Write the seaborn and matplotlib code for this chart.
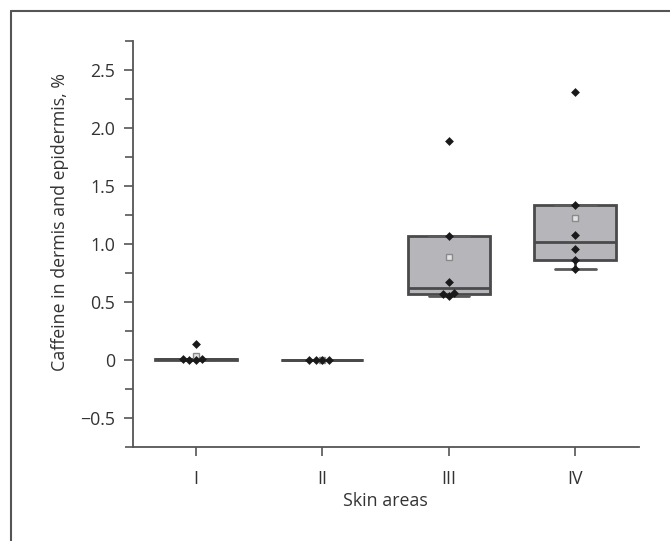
import numpy as np
import pandas as pd
import matplotlib
matplotlib.use("Agg")
import matplotlib.pyplot as plt
from matplotlib.lines import Line2D
from matplotlib.ticker import FixedLocator, FixedFormatter
import seaborn as sns

# caffeine found in dermis + epidermis, % of applied dose, per skin area
areas = ["I", "II", "III", "IV"]
area_I = [0.135, 0.01, 0.0, 0.005, 0.0]
area_II = [0.0, 0.002, 0.0, 0.001]
area_III = [1.887, 1.065, 0.668, 0.578, 0.567, 0.55]
area_IV = [2.31, 1.335, 1.076, 0.958, 0.866, 0.78]

ytick_vals = [-0.5, 0, 0.5, 1.0, 1.5, 2.0, 2.5]
ytick_text = ["\u22120.5", "0", "0.5", "1.0", "1.5", "2.0", "2.5"]

groups = [area_I, area_II, area_III, area_IV]
df = pd.DataFrame({
    "area": np.repeat(areas, [len(g) for g in groups]),
    "value": np.concatenate(groups),
})


def tukey_stats(vals, label):
    # box with Tukey hinges (median of lower / upper half)
    v = np.sort(np.asarray(vals, dtype=float))
    n = len(v)
    h = (n + 1) // 2
    q1 = np.median(v[:h])
    q3 = np.median(v[n - h:])
    iqr = q3 - q1
    inside = v[(v >= q1 - 1.5 * iqr) & (v <= q3 + 1.5 * iqr)]
    return dict(label=label, med=np.median(v), q1=q1, q3=q3,
                whislo=inside.min(), whishi=inside.max(),
                mean=v.mean(), fliers=[])


sns.set_style("ticks")
plt.rcParams["font.family"] = ["Open Sans", "DejaVu Sans"]

fig = plt.figure(figsize=(6.7, 5.41), dpi=100)
ax = fig.add_axes([0.198, 0.174, 0.755, 0.750])

dark = "#4a4a4a"
stats = [tukey_stats(g, a) for g, a in zip(groups, areas)]
ax.bxp(stats, positions=range(len(areas)), widths=0.65, capwidths=0.32,
       patch_artist=True, showmeans=True, showfliers=False, manage_ticks=False,
       boxprops=dict(facecolor="#b6b6ba", edgecolor=dark, linewidth=2),
       medianprops=dict(color=dark, linewidth=2),
       whiskerprops=dict(color=dark, linewidth=2),
       capprops=dict(color="#5a5a5a", linewidth=2),
       meanprops=dict(marker="s", markersize=4.5, markerfacecolor="#e2e2e2",
                      markeredgecolor="#8a8a8a", markeredgewidth=1),
       zorder=2)

sns.swarmplot(data=df, x="area", y="value", order=areas, color="#1a1a1a",
              marker="D", size=4.5, ax=ax, zorder=3)

ax.set_xlim(-0.5, 3.5)
ax.set_ylim(-0.75, 2.75)
ax.yaxis.set_major_locator(FixedLocator(ytick_vals))
ax.yaxis.set_major_formatter(FixedFormatter(ytick_text))
ax.yaxis.set_minor_locator(FixedLocator([-0.75, -0.25, 0.25, 0.75, 1.25, 1.75, 2.25, 2.75]))

fs = 12.8
ax.set_xlabel("Skin areas", fontsize=fs, color="#333333", labelpad=3)
ax.set_ylabel("Caffeine in dermis and epidermis, %", fontsize=fs, color="#333333")
ax.yaxis.set_label_coords(-0.125, 0.555)

for side in ["top", "right"]:
    ax.spines[side].set_visible(False)
for side in ["left", "bottom"]:
    ax.spines[side].set_color("#555555")
    ax.spines[side].set_linewidth(1.3)
ax.tick_params(axis="both", which="major", labelsize=fs, labelcolor="#333333",
               color="#555555", length=6.5, width=1.2, direction="out")
ax.tick_params(axis="x", which="major", pad=10)
ax.tick_params(axis="y", which="major", pad=6)
ax.tick_params(axis="y", which="minor", color="#555555", length=6, width=1.2)

# frame of the original figure panel (top and left edges)
fig.add_artist(Line2D([0.0164, 0.0164], [0, 0.979], color="#555555", lw=1.5))
fig.add_artist(Line2D([0.0164, 1.0], [0.979, 0.979], color="#555555", lw=1.5))

fig.savefig("out.png", dpi=100)
